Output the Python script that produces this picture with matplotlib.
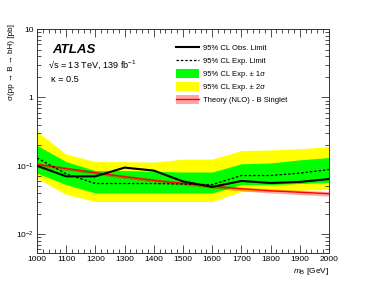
import numpy as np
import matplotlib
matplotlib.use("Agg")
import matplotlib.pyplot as plt
from matplotlib.lines import Line2D
from matplotlib.patches import Patch
from matplotlib.ticker import FixedLocator, FixedFormatter, MultipleLocator, LogLocator, NullFormatter

plt.rcParams['font.family'] = ['Liberation Sans', 'DejaVu Sans']
plt.rcParams['mathtext.fontset'] = 'custom'
plt.rcParams['mathtext.rm'] = 'Liberation Sans'
plt.rcParams['mathtext.it'] = 'Liberation Sans:italic'
plt.rcParams['mathtext.bf'] = 'Liberation Sans:bold'

# ---- data ----
mass = [1000, 1100, 1200, 1300, 1400, 1500, 1600, 1700, 1800, 1900, 2000]
obs_limit = [0.100, 0.070, 0.070, 0.094, 0.085, 0.059, 0.049, 0.060, 0.056, 0.058, 0.064]
exp_limit = [0.130, 0.076, 0.055, 0.055, 0.055, 0.054, 0.053, 0.072, 0.072, 0.078, 0.088]
exp_p1s = [0.198, 0.115, 0.085, 0.085, 0.083, 0.081, 0.081, 0.107, 0.110, 0.122, 0.132]
exp_m1s = [0.078, 0.053, 0.040, 0.040, 0.040, 0.040, 0.040, 0.053, 0.053, 0.055, 0.057]
exp_p2s = [0.320, 0.148, 0.115, 0.115, 0.113, 0.125, 0.125, 0.167, 0.170, 0.178, 0.190]
exp_m2s = [0.066, 0.038, 0.030, 0.030, 0.030, 0.030, 0.030, 0.042, 0.042, 0.044, 0.045]
theory = [0.105, 0.091, 0.079, 0.069, 0.061, 0.055, 0.050, 0.046, 0.043, 0.041, 0.039]
theory_up = [0.111, 0.096, 0.083, 0.073, 0.065, 0.058, 0.053, 0.049, 0.046, 0.044, 0.042]
theory_dn = [0.099, 0.086, 0.075, 0.065, 0.058, 0.052, 0.047, 0.043, 0.040, 0.038, 0.036]

xticks = [1000, 1100, 1200, 1300, 1400, 1500, 1600, 1700, 1800, 1900, 2000]
yticks = [0.01, 0.1, 1, 10]
yticklabels = ['$10^{-2}$', '$10^{-1}$', '1', '10']

fig = plt.figure(figsize=(3.66, 2.83), dpi=100)
ax = fig.add_axes([37/366, 1-253/283, 292/366, 224/283])

ax.fill_between(mass, exp_m2s, exp_p2s, color='#ffff00', lw=0, zorder=1)
ax.fill_between(mass, exp_m1s, exp_p1s, color='#00ff00', lw=0, zorder=2)
ax.fill_between(mass, theory_dn, theory_up, color='#ff0000', alpha=0.35, lw=0, zorder=3)
ax.plot(mass, theory, color='#ff0000', lw=1.0, zorder=4)
ax.plot(mass, exp_limit, color='black', lw=0.9, ls=(0, (2, 1.5)), zorder=5)
ax.plot(mass, obs_limit, color='black', lw=1.5, zorder=6)

ax.set_yscale('log')
ax.set_xlim(1000, 2000)
ax.set_ylim(0.0053, 10)

ax.xaxis.set_major_locator(FixedLocator(xticks))
ax.xaxis.set_minor_locator(MultipleLocator(20))
ax.set_xticklabels([str(v) for v in xticks])
ax.yaxis.set_major_locator(FixedLocator(yticks))
ax.yaxis.set_major_formatter(FixedFormatter(yticklabels))
ax.yaxis.set_minor_locator(LogLocator(base=10, subs=np.arange(2, 10)))
ax.yaxis.set_minor_formatter(NullFormatter())

ax.tick_params(which='both', direction='in', top=True, right=True, labelsize=6, width=0.6, color='#333333')
ax.tick_params(which='major', length=6)
ax.tick_params(which='minor', length=3)
ax.tick_params(axis='x', pad=2)
ax.tick_params(axis='y', pad=2.5)
for s in ax.spines.values():
    s.set_linewidth(0.7)
    s.set_color('#333333')

ax.set_ylabel('σ(pp → B → bH) [pb]', fontsize=5.8, loc='top')
ax.yaxis.set_label_coords(-0.075, 1.02)
ax.set_xlabel(r'$m_{\mathrm{B}}$ [GeV]', fontsize=6, loc='right')
ax.xaxis.set_label_coords(1.0, -0.06)

ax.text(0.052, 0.905, 'ATLAS', transform=ax.transAxes, fontsize=9.5, fontweight='bold',
        fontstyle='italic', va='center', ha='left')
ax.text(0.038, 0.838, '√s = 13 TeV, 139 fb$^{-1}$', transform=ax.transAxes, fontsize=6.6,
        va='center', ha='left')
ax.text(0.048, 0.773, 'κ = 0.5', transform=ax.transAxes, fontsize=6.6,
        va='center', ha='left')

handles = [
    Line2D([], [], color='black', lw=1.5),
    Line2D([], [], color='black', lw=0.9, ls=(0, (2, 1.5))),
    Patch(facecolor='#00ff00', edgecolor='none'),
    Patch(facecolor='#ffff00', edgecolor='none'),
    (Patch(facecolor='#ff0000', alpha=0.35, edgecolor='none'), Line2D([], [], color='#ff0000', lw=1.0)),
]
labels = ['95% CL Obs. Limit', '95% CL Exp. Limit', '95% CL Exp. ± 1σ',
          '95% CL Exp. ± 2σ', 'Theory (NLO) - B Singlet']
leg = ax.legend(handles, labels, loc='upper left', bbox_to_anchor=(0.475, 0.935), frameon=False,
                fontsize=5.5, handlelength=3.0, handleheight=1.3, handletextpad=0.6,
                labelspacing=0.55, borderpad=0, borderaxespad=0)

fig.savefig('out.png', dpi=100)
